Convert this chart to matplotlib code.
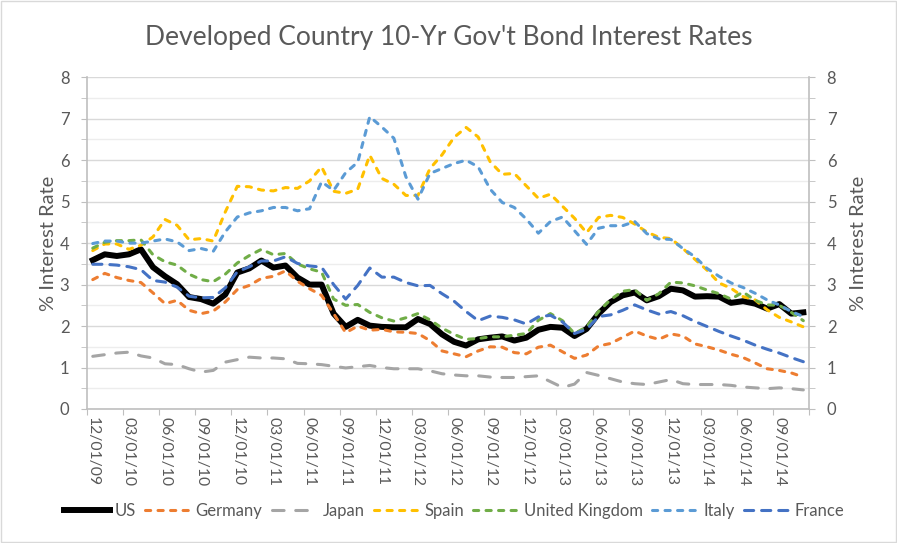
import numpy as np
import pandas as pd
import matplotlib
matplotlib.use("Agg")
import matplotlib.pyplot as plt
from matplotlib.patches import Rectangle

# monthly averages, 12/01/09 .. 11/01/14
months = pd.date_range("2009-12-01", periods=60, freq="MS")

us = [3.59, 3.73, 3.69, 3.73, 3.85, 3.42, 3.20, 3.01, 2.70, 2.65,
      2.54, 2.76, 3.29, 3.39, 3.58, 3.41, 3.46, 3.17, 3.00, 3.00,
      2.30, 1.98, 2.15, 2.01, 1.98, 1.97, 1.97, 2.17, 2.05, 1.80,
      1.62, 1.53, 1.68, 1.72, 1.75, 1.65, 1.72, 1.91, 1.98, 1.96,
      1.76, 1.93, 2.30, 2.58, 2.74, 2.81, 2.62, 2.72, 2.90, 2.86,
      2.71, 2.72, 2.71, 2.56, 2.60, 2.54, 2.42, 2.53, 2.30, 2.33]
germany = [3.12, 3.27, 3.17, 3.10, 3.05, 2.80, 2.54, 2.62, 2.38, 2.30,
           2.36, 2.58, 2.88, 2.98, 3.15, 3.20, 3.33, 3.08, 2.90, 2.74,
           2.30, 1.84, 2.00, 1.90, 1.92, 1.86, 1.85, 1.82, 1.65, 1.40,
           1.33, 1.26, 1.40, 1.50, 1.49, 1.36, 1.33, 1.49, 1.54, 1.38,
           1.22, 1.30, 1.52, 1.58, 1.73, 1.88, 1.76, 1.68, 1.81, 1.76,
           1.57, 1.50, 1.42, 1.32, 1.24, 1.11, 0.97, 0.93, 0.87, 0.77]
japan = [1.27, 1.31, 1.35, 1.37, 1.28, 1.23, 1.09, 1.07, 0.97, 0.89,
         0.93, 1.13, 1.19, 1.25, 1.23, 1.23, 1.21, 1.10, 1.09, 1.07,
         1.03, 0.99, 1.02, 1.05, 1.00, 0.97, 0.97, 0.97, 0.92, 0.85,
         0.82, 0.80, 0.80, 0.77, 0.76, 0.76, 0.78, 0.80, 0.66, 0.52,
         0.60, 0.88, 0.81, 0.73, 0.65, 0.61, 0.59, 0.65, 0.71, 0.61,
         0.59, 0.59, 0.59, 0.57, 0.53, 0.51, 0.49, 0.51, 0.49, 0.46]
spain = [3.82, 3.98, 3.98, 3.85, 3.95, 4.15, 4.57, 4.43, 4.08, 4.11,
         4.05, 4.75, 5.37, 5.36, 5.28, 5.26, 5.34, 5.32, 5.50, 5.84,
         5.25, 5.20, 5.30, 6.12, 5.56, 5.42, 5.15, 5.15, 5.80, 6.13,
         6.55, 6.79, 6.56, 5.96, 5.66, 5.68, 5.38, 5.08, 5.18, 4.89,
         4.60, 4.25, 4.62, 4.67, 4.62, 4.46, 4.27, 4.14, 4.11, 3.87,
         3.61, 3.35, 3.04, 2.91, 2.71, 2.63, 2.39, 2.21, 2.10, 1.98]
uk = [3.88, 4.02, 4.06, 4.06, 4.08, 3.72, 3.55, 3.47, 3.25, 3.12,
      3.07, 3.25, 3.52, 3.70, 3.85, 3.72, 3.75, 3.50, 3.38, 3.30,
      2.65, 2.50, 2.52, 2.33, 2.20, 2.12, 2.20, 2.30, 2.15, 1.95,
      1.80, 1.68, 1.70, 1.74, 1.74, 1.78, 1.82, 2.14, 2.30, 2.13,
      1.82, 1.98, 2.35, 2.64, 2.84, 2.88, 2.62, 2.78, 3.06, 3.04,
      2.97, 2.87, 2.78, 2.65, 2.82, 2.62, 2.51, 2.50, 2.33, 2.13]
italy = [3.99, 4.05, 4.05, 4.00, 4.00, 4.05, 4.10, 4.03, 3.82, 3.87,
         3.80, 4.27, 4.63, 4.73, 4.78, 4.86, 4.86, 4.78, 4.83, 5.48,
         5.27, 5.70, 5.95, 7.05, 6.80, 6.53, 5.60, 5.06, 5.68, 5.80,
         5.92, 6.00, 5.84, 5.30, 4.98, 4.86, 4.58, 4.24, 4.52, 4.63,
         4.30, 3.97, 4.36, 4.42, 4.42, 4.52, 4.23, 4.10, 4.09, 3.87,
         3.67, 3.39, 3.20, 3.04, 2.93, 2.79, 2.63, 2.51, 2.35, 2.23]
france = [3.49, 3.49, 3.47, 3.43, 3.36, 3.10, 3.06, 2.94, 2.72, 2.68,
          2.69, 2.92, 3.31, 3.43, 3.57, 3.57, 3.67, 3.51, 3.45, 3.42,
          3.00, 2.65, 2.98, 3.40, 3.18, 3.18, 3.05, 2.97, 2.98, 2.78,
          2.60, 2.35, 2.13, 2.24, 2.21, 2.15, 2.05, 2.22, 2.26, 2.10,
          1.82, 1.92, 2.23, 2.27, 2.38, 2.51, 2.39, 2.29, 2.35, 2.25,
          2.11, 1.99, 1.87, 1.76, 1.66, 1.54, 1.44, 1.35, 1.24, 1.14]

names = ["US", "Germany", "Japan", "Spain", "United Kingdom", "Italy", "France"]
colors = ["#000000", "#ED7D31", "#A5A5A5", "#FFC000", "#70AD47", "#5B9BD5", "#4472C4"]

plt.rcParams["font.family"] = ["Lato", "DejaVu Sans"]
txt = "#595959"

fig = plt.figure(figsize=(8.97, 5.43), dpi=100)
ax = fig.add_axes([0.0967, 0.2468, 0.8056, 0.6109])

x = np.arange(len(months))
series = [us, germany, japan, spain, uk, italy, france]
dash = {"short": (1.7, 2.4), "long": (3.8, 3.8), "med": (3.0, 2.6)}
styles = [None, "short", "long", "short", "short", "short", "med"]

lines = []
for vals, name, col, st in zip(series, names, colors, styles):
    if st is None:
        ln, = ax.plot(x, vals, color=col, lw=4.3, solid_joinstyle="round", label=name)
    else:
        ln, = ax.plot(x, vals, color=col, lw=2.2, dash_capstyle="round",
                      dash_joinstyle="round", label=name)
        ln.set_dashes(dash[st])
    lines.append(ln)

ax.set_xlim(-0.5, 59.5)
ax.set_ylim(0, 8)

# tick marks between categories, labels on every 3rd month
ax.set_xticks(np.arange(-0.5, 60, 3))
ax.set_xticklabels([])
ax.set_xticks(np.arange(0, 60, 3), minor=True)
ax.set_xticklabels([d.strftime("%m/%d/%y") for d in months[::3]], minor=True,
                   rotation=-90, fontsize=11.3, color=txt)
ax.tick_params(axis="x", which="major", length=4.5, color="#BFBFBF", direction="out")
ax.tick_params(axis="x", which="minor", length=0, pad=6)

ax.set_yticks(np.arange(0, 9, 1))
ax.set_yticks(np.arange(0.5, 8, 1), minor=True)
ax.tick_params(axis="y", which="both", left=True, right=True, labelleft=True,
               labelright=True, length=4.5, color="#BFBFBF", direction="out",
               labelsize=12, labelcolor=txt, pad=8)

ax.grid(which="major", axis="y", color="#D9D9D9", lw=1)
ax.grid(which="minor", axis="y", color="#EDEDED", lw=1)
ax.set_axisbelow(True)

ax.spines["top"].set_visible(False)
for s in ["left", "right", "bottom"]:
    ax.spines[s].set_color("#BFBFBF")
    ax.spines[s].set_linewidth(1.2)

fig.text(0.5, 1 - 38 / 543, "Developed Country 10-Yr Gov't Bond Interest Rates",
         ha="center", va="center", fontsize=19, color=txt)
fig.text(48 / 897, 1 - 243 / 543, "% Interest Rate", rotation=90,
         ha="center", va="center", fontsize=14.5, color=txt)
fig.text(858 / 897, 1 - 243 / 543, "% Interest Rate", rotation=90,
         ha="center", va="center", fontsize=14.5, color=txt)

fig.legend(lines, names, loc="center", bbox_to_anchor=(454 / 897, 1 - 511 / 543), ncol=7,
           frameon=False, fontsize=12, handlelength=2.8, handletextpad=0.25,
           columnspacing=0.55, labelcolor=txt)

fig.patches.append(Rectangle((0.001, 0.001), 0.998, 0.998, transform=fig.transFigure,
                             fill=False, edgecolor="#D9D9D9", lw=1))

fig.savefig("out.png", dpi=100)
